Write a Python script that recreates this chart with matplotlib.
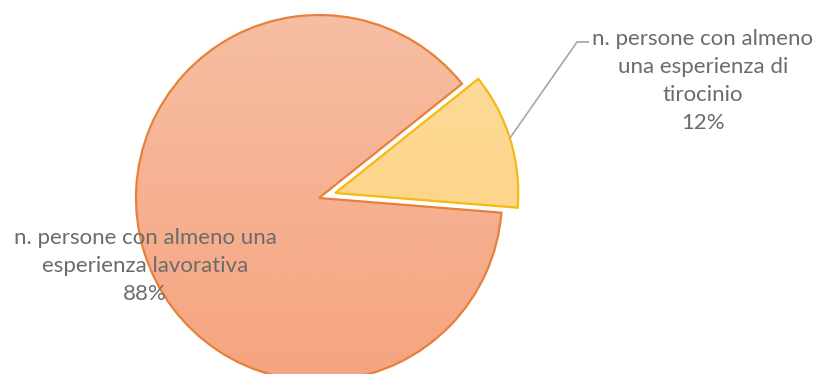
import numpy as np
import matplotlib
matplotlib.use("Agg")
import matplotlib.pyplot as plt
from matplotlib.colors import LinearSegmentedColormap

# Data
categories = ["n. persone con almeno una esperienza lavorativa",
              "n. persone con almeno una esperienza di tirocinio"]
values = [88, 12]
label_lines = [["n. persone con almeno una", "esperienza lavorativa"],
               ["n. persone con almeno", "una esperienza di", "tirocinio"]]

# Styling
top_colors = ["#F6BEA3", "#FEDC9D"]
bottom_colors = ["#F6A47F", "#FDD07B"]
edge_colors = ["#E8803A", "#F5BA12"]
text_color = "#6B6B6B"

W, H = 816, 374
fig = plt.figure(figsize=(W / 100, H / 100), dpi=100)
ax = fig.add_axes([0, 0, 1, 1])

radius = 183
center = (319, 176)
wedges, _ = ax.pie(values, startangle=38.6, counterclock=True,
                   radius=radius, center=center,
                   explode=[0, 17],
                   wedgeprops=dict(linewidth=1.6),
                   frame=True)

for w, c0, c1, ec in zip(wedges, top_colors, bottom_colors, edge_colors):
    w.set_facecolor("none")
    w.set_edgecolor(ec)
    w.set_zorder(3)
    cx, cy = w.center
    cmap = LinearSegmentedColormap.from_list("g", [c1, c0])
    grad = np.linspace(0, 1, 256).reshape(-1, 1)
    im = ax.imshow(grad, cmap=cmap, origin="lower", aspect="auto",
                   extent=[cx - radius, cx + radius, cy - radius, cy + radius],
                   zorder=2, interpolation="bilinear")
    im.set_clip_path(w)

ax.set_xlim(0, W)
ax.set_ylim(0, H)
ax.set_aspect("equal")
ax.axis("off")

total = sum(values)
pcts = [f"{round(v / total * 100)}%" for v in values]

font = dict(family="Lato", fontsize=16, color=text_color,
            ha="center", va="center", zorder=5, linespacing=1.5)

# Label for the large slice
ax.text(145, H - 266, "\n".join(label_lines[0] + [pcts[0]]), **font)

# Label for the small slice with leader line
ax.text(703, H - 81, "\n".join(label_lines[1] + [pcts[1]]), **font)
ax.plot([510, 577, 589], [H - 138, H - 42, H - 42], color="#A6A6A6",
        linewidth=1.2, zorder=4, solid_capstyle="butt")

fig.savefig("out.png", dpi=100)
